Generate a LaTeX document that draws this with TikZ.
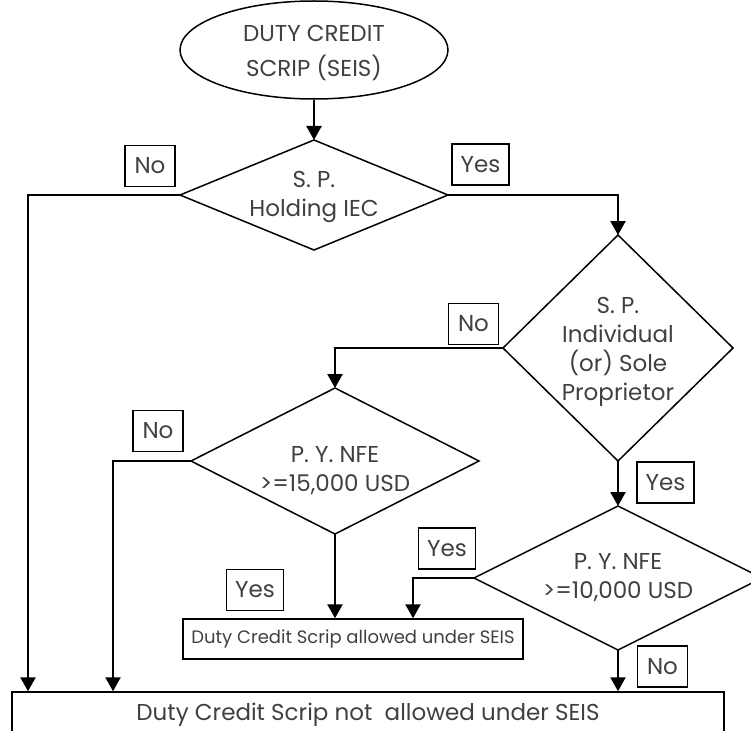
\documentclass[tikz,border=0pt]{standalone}
\usepackage{fontspec}
\setmainfont{Poppins}
\usetikzlibrary{shapes.geometric,arrows.meta}
\definecolor{txt}{HTML}{404040}
\begin{document}
\begin{tikzpicture}[x=1pt,y=-1pt,
  every node/.style={text=txt},
  mainfont/.style={font=\fontsize{23}{29}\selectfont},
  shapeline/.style={draw=black, line width=1.5pt},
  dec/.style={shapeline, diamond, inner sep=0pt, outer sep=0pt},
  dectext/.style={align=center, inner sep=0pt, mainfont},
  lbl/.style={draw=black, line width=1.3pt, inner sep=0pt, minimum height=41pt, mainfont},
  nolbl/.style={lbl, minimum width=50pt},
  yeslbl/.style={lbl, minimum width=57pt},
  conn/.style={line width=2.5pt, -{Triangle[width=15pt,length=14pt]}}]
\useasboundingbox (0,0) rectangle (751,730);

% start
\node[shapeline, ellipse, minimum width=268pt, minimum height=98pt, inner sep=0pt] (start) at (314,50) {};
\node[dectext, font=\fontsize{23}{35}\selectfont] (startt) at (314,53) {DUTY CREDIT\\SCRIP (SEIS)};

% decisions
\node[dec, minimum width=268pt, minimum height=110pt] (d1) at (314,195) {};
\node[dectext] (d1t) at (314,197) {S. P.\\Holding IEC};
\node[dec, minimum width=230pt, minimum height=226pt] (d2) at (618,348) {};
\node[dectext] (d2t) at (618,352) {S. P.\\Individual\\(or) Sole\\Proprietor};
\node[dec, minimum width=288pt, minimum height=146pt] (d3) at (335,461) {};
\node[dectext] (d3t) at (335,471) {P. Y. NFE\\>=15,000 USD};
\node[dec, minimum width=288pt, minimum height=144pt] (d4) at (618,578) {};
\node[dectext] (d4t) at (618,578) {P. Y. NFE\\>=10,000 USD};

% outcomes
\node[shapeline, minimum width=340pt, minimum height=40pt, inner sep=0pt, font=\fontsize{18}{20}\selectfont]
      (ok) at (353,639) {Duty Credit Scrip allowed under SEIS};
\node[shapeline, minimum width=712pt, minimum height=46pt, inner sep=0pt, mainfont]
      (fail) at (368,715) {Duty Credit Scrip not\ \ allowed under SEIS};

% labels
\node[nolbl] (no1) at (150,166) {No};
\node[yeslbl] (yes1) at (480.5,164.5) {Yes};
\node[nolbl] (no2) at (473.5,324) {No};
\node[nolbl] (no3) at (158,431) {No};
\node[yeslbl] (yes2) at (665.5,482.5) {Yes};
\node[yeslbl] (yes3) at (447,548.5) {Yes};
\node[yeslbl] (yes4) at (255,590) {Yes};
\node[nolbl] (no4) at (662.5,666.5) {No};

% junctions
\coordinate (j1) at (28,195);
\coordinate (j2) at (113,461);
\coordinate (j3) at (413,578);

% connectors
\draw[conn] (start.south) -- (d1.north);
\draw[conn] (d1.west) -- (j1) -- (j1 |- fail.north);
\draw[conn] (d1.east) -| (d2.north);
\draw[conn] (d2.west) -| (d3.north);
\draw[conn] (d3.west) -- (j2) -- (j2 |- fail.north);
\draw[conn] (d3.south) -- (d3.south |- ok.north);
\draw[conn] (d2.south) -- (d4.north);
\draw[conn] (d4.west) -- (j3) -- (j3 |- ok.north);
\draw[conn] (d4.south) -- (d4.south |- fail.north);
\end{tikzpicture}
\end{document}
